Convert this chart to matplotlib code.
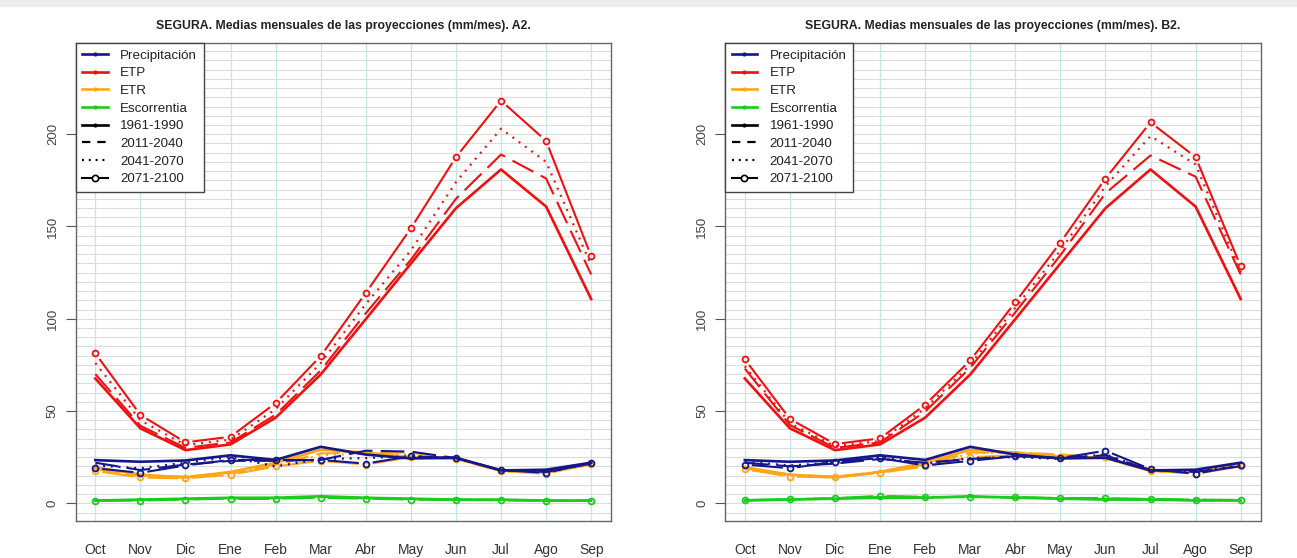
import numpy as np
import matplotlib
matplotlib.use("Agg")
import matplotlib.pyplot as plt
from matplotlib.lines import Line2D
from matplotlib.patches import Rectangle

plt.rcParams['font.family'] = ['Liberation Sans', 'DejaVu Sans']
plt.rcParams['lines.scale_dashes'] = False

meses = ['Oct', 'Nov', 'Dic', 'Ene', 'Feb', 'Mar', 'Abr', 'May', 'Jun', 'Jul', 'Ago', 'Sep']
periodos = ['1961-1990', '2011-2040', '2041-2070', '2071-2100']
variables = ['Precipitación', 'ETP', 'ETR', 'Escorrentia']
y_ticks = [0, 50, 100, 150, 200]

# ---- 1961-1990 (control) ----
pre_1961 = [23.4, 22.5, 23.2, 26.0, 23.5, 30.6, 26.4, 24.3, 24.7, 17.8, 18.2, 22.0]
etp_1961 = [67.6, 40.6, 28.8, 31.9, 46.4, 69.8, 99.8, 129.9, 159.9, 180.9, 160.8, 110.7]
etr_1961 = [19.5, 15.5, 14.0, 17.0, 22.0, 29.0, 27.5, 25.0, 24.5, 17.6, 17.8, 21.5]
esc_1961 = [1.5, 2.0, 2.5, 3.0, 3.0, 3.8, 3.0, 2.5, 2.0, 2.0, 1.5, 1.5]

# ---- A2 ----
pre_a2_2011 = [22.0, 18.0, 21.0, 23.0, 23.0, 23.5, 28.5, 28.0, 24.5, 18.0, 17.0, 21.5]
pre_a2_2041 = [20.5, 19.0, 22.0, 25.0, 20.0, 24.0, 24.5, 25.5, 24.5, 18.0, 17.5, 21.5]
pre_a2_2071 = [19.0, 16.5, 20.5, 23.5, 23.5, 23.5, 21.5, 25.5, 24.5, 18.0, 16.5, 22.0]
etp_a2_2011 = [70.0, 42.0, 30.0, 33.0, 48.0, 72.0, 103.0, 132.0, 165.0, 189.0, 176.0, 124.0]
etp_a2_2041 = [76.0, 45.0, 31.5, 34.5, 51.0, 76.0, 108.0, 137.0, 174.0, 203.0, 185.0, 129.0]
etp_a2_2071 = [81.2, 47.9, 33.0, 36.1, 54.3, 79.8, 114.0, 149.0, 187.6, 218.2, 196.4, 133.9]
etr_a2_2011 = [18.5, 15.0, 14.5, 16.5, 21.0, 27.0, 27.5, 27.5, 24.0, 17.5, 16.5, 21.0]
etr_a2_2041 = [18.0, 14.5, 14.0, 16.0, 20.5, 26.0, 27.0, 26.5, 24.0, 17.5, 16.5, 21.0]
etr_a2_2071 = [17.5, 14.0, 13.5, 15.5, 20.0, 23.0, 21.0, 25.0, 24.0, 17.5, 16.0, 21.5]
esc_a2_2011 = [1.5, 1.8, 2.3, 2.8, 2.8, 3.5, 2.8, 2.3, 2.0, 1.8, 1.5, 1.5]
esc_a2_2041 = [1.4, 1.7, 2.2, 2.6, 2.7, 3.3, 2.7, 2.2, 1.9, 1.7, 1.4, 1.4]
esc_a2_2071 = [1.3, 1.5, 2.0, 2.5, 2.5, 3.0, 2.5, 2.0, 1.8, 1.6, 1.3, 1.3]

# ---- B2 ----
pre_b2_2011 = [22.0, 20.0, 21.5, 24.0, 22.0, 24.0, 25.5, 24.5, 26.0, 18.0, 17.0, 20.0]
pre_b2_2041 = [22.5, 20.5, 22.0, 25.0, 21.5, 24.5, 25.0, 24.0, 26.5, 18.0, 17.5, 20.5]
pre_b2_2071 = [21.0, 19.0, 22.5, 24.5, 20.5, 23.0, 25.5, 24.5, 28.5, 18.5, 16.0, 20.5]
etp_b2_2011 = [73.0, 42.4, 30.0, 33.0, 49.7, 73.4, 103.5, 134.4, 168.0, 188.5, 177.0, 124.0]
etp_b2_2041 = [74.3, 43.4, 31.0, 33.7, 51.5, 75.0, 106.0, 137.0, 171.8, 199.0, 183.6, 125.3]
etp_b2_2071 = [78.0, 45.7, 32.1, 35.2, 53.4, 77.4, 108.9, 141.3, 176.0, 206.4, 187.6, 128.4]
etr_b2_2011 = [19.0, 15.5, 14.5, 17.0, 21.0, 27.5, 27.5, 26.5, 24.5, 17.5, 17.0, 20.5]
etr_b2_2041 = [18.5, 15.0, 14.5, 16.5, 20.5, 27.0, 27.5, 26.0, 24.5, 17.5, 17.0, 20.5]
etr_b2_2071 = [18.5, 14.5, 14.0, 16.5, 20.0, 25.0, 26.0, 25.0, 25.0, 17.5, 16.0, 20.0]
esc_b2_2011 = [1.7, 2.0, 2.6, 3.4, 3.2, 3.5, 3.2, 2.6, 2.4, 2.1, 1.8, 1.6]
esc_b2_2041 = [1.7, 2.1, 2.7, 3.7, 3.3, 3.4, 3.3, 2.7, 2.6, 2.2, 1.9, 1.7]
esc_b2_2071 = [1.8, 2.2, 2.8, 4.0, 3.5, 3.3, 3.5, 2.8, 2.8, 2.3, 2.0, 1.8]

colores = {'Precipitación': '#15158c', 'ETP': '#f01010', 'ETR': '#ffa614', 'Escorrentia': '#1ccc1c'}

W, H = 1297, 558
fig = plt.figure(figsize=(W / 100, H / 100), dpi=100)
fig.patches.append(Rectangle((0, 1 - 6 / H), 1, 6 / H, transform=fig.transFigure,
                             color='#ececec', zorder=0))

x = np.arange(1, 13)


def plot_b(ax, xs, ys, color, lw, gap=7.0, z=3):
    """R-style type='b': points with line segments stopping short of them."""
    trans = ax.transData
    inv = trans.inverted()
    pts = trans.transform(np.column_stack([xs, ys]))
    for i in range(len(xs) - 1):
        p0, p1 = pts[i], pts[i + 1]
        d = p1 - p0
        L = np.hypot(d[0], d[1])
        if L > 2 * gap + 1:
            u = d / L
            seg = inv.transform(np.vstack([p0 + u * gap, p1 - u * gap]))
            ax.plot(seg[:, 0], seg[:, 1], color=color, lw=lw, solid_capstyle='butt', zorder=z)
    ax.plot(xs, ys, linestyle='none', marker='o', ms=4.2, mfc='none', mec=color, mew=1.3, zorder=z)


def panel(rect, titulo, series):
    ax = fig.add_axes(rect)
    ax.set_xlim(0.56, 12.44)
    ax.set_ylim(-9.6, 249.6)
    # grid
    for yv in np.arange(-5, 250, 5):
        ax.axhline(yv, color='#dcdcdc', lw=0.8, zorder=1)
    for xv in x:
        ax.axvline(xv, color='#c4e6e6', lw=0.9, zorder=1)

    order = ['ETR', 'Precipitación', 'ETP', 'Escorrentia']
    for var in order:
        c = colores[var]
        s = series[var]
        ax.plot(x, s[0], color=c, lw=1.9, zorder=3, solid_joinstyle='round')
        ax.plot(x, s[1], color=c, lw=1.5, dashes=(17, 6), zorder=3)
        ax.plot(x, s[2], color=c, lw=1.6, dashes=(1.4, 4.2), zorder=3)
        plot_b(ax, x, s[3], c, 1.5)

    ax.set_xticks(x)
    ax.set_xticklabels(meses, fontsize=10, color='#333333')
    ax.tick_params(axis='x', length=0, pad=16)
    ax.set_yticks(y_ticks)
    ax.set_yticklabels([str(v) for v in y_ticks], rotation=90, va='center',
                       fontsize=9.5, color='#444444')
    ax.tick_params(axis='y', length=7, width=0.8, color='#555555', pad=5)
    for sp in ax.spines.values():
        sp.set_color('#666666')
        sp.set_linewidth(1.0)
    ax.set_title(titulo, fontsize=8.8, fontweight='bold', pad=10, color='#222222')

    handles = []
    for var in variables:
        handles.append(Line2D([], [], color=colores[var], lw=1.9, marker='.', ms=4))
    handles.append(Line2D([], [], color='black', lw=1.9, marker='.', ms=4))
    handles.append(Line2D([], [], color='black', lw=1.6, dashes=(6, 5)))
    handles.append(Line2D([], [], color='black', lw=1.6, dashes=(1.4, 3.5)))
    handles.append(Line2D([], [], color='black', lw=1.5, marker='o', ms=4.5, mfc='white', mew=1.2))
    leg = ax.legend(handles, variables + periodos, loc='upper left', bbox_to_anchor=(0, 1),
                    borderaxespad=0, fontsize=9.6, frameon=True, fancybox=False,
                    framealpha=1, edgecolor='#444444', handlelength=1.9,
                    handletextpad=0.95, labelspacing=0.4, borderpad=0.5)
    leg.get_frame().set_linewidth(1.0)
    leg.set_zorder(10)
    for t in leg.get_texts():
        t.set_color('#222222')
    return ax


ax_w = (611 - 75.5) / W
ax_h = (521 - 42.7) / H
ax_y = (H - 521) / H

panel([75.5 / W, ax_y, ax_w, ax_h], 'SEGURA. Medias mensuales de las proyecciones (mm/mes). A2.',
      {'Precipitación': [pre_1961, pre_a2_2011, pre_a2_2041, pre_a2_2071],
       'ETP': [etp_1961, etp_a2_2011, etp_a2_2041, etp_a2_2071],
       'ETR': [etr_1961, etr_a2_2011, etr_a2_2041, etr_a2_2071],
       'Escorrentia': [esc_1961, esc_a2_2011, esc_a2_2041, esc_a2_2071]})

panel([725.0 / W, ax_y, ax_w, ax_h], 'SEGURA. Medias mensuales de las proyecciones (mm/mes). B2.',
      {'Precipitación': [pre_1961, pre_b2_2011, pre_b2_2041, pre_b2_2071],
       'ETP': [etp_1961, etp_b2_2011, etp_b2_2041, etp_b2_2071],
       'ETR': [etr_1961, etr_b2_2011, etr_b2_2041, etr_b2_2071],
       'Escorrentia': [esc_1961, esc_b2_2011, esc_b2_2041, esc_b2_2071]})

fig.savefig('out.png', dpi=100)
